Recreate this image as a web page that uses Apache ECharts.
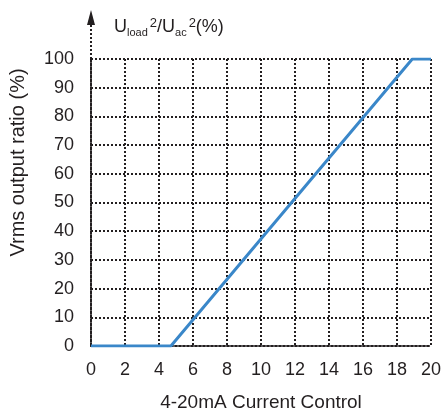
<!DOCTYPE html>
<html>
<head>
<meta charset="utf-8">
<script src="https://cdn.jsdelivr.net/npm/echarts@6/dist/echarts.min.js"></script>
<style>
  html, body { margin: 0; padding: 0; background: #fff; }
  #chart { width: 443px; height: 412px; }
</style>
</head>
<body>
<div id="chart"></div>
<script>
// current (mA) vs output ratio (%)
var currentMA = [0, 4.7, 18.9, 20];
var ratioPct = [0, 0, 100, 100];
var xTicks = [0, 2, 4, 6, 8, 10, 12, 14, 16, 18, 20];
var yTicks = [0, 10, 20, 30, 40, 50, 60, 70, 80, 90, 100];

var ink = '#231f20';
var font = 'Liberation Sans, Arial, sans-serif';
var dots = { color: ink, width: 2, type: [2, 2] };

var chart = echarts.init(document.getElementById('chart'));
var points = currentMA.map(function (x, i) { return [x, ratioPct[i]]; });

var gridLeft = 91, gridTop = 59;

var option = {
  animation: false,
  grid: { left: gridLeft, right: 12, top: gridTop, bottom: 66, outerBoundsMode: 'none', containLabel: false },
  xAxis: {
    type: 'value',
    min: xTicks[0], max: xTicks[xTicks.length - 1], interval: 2,
    name: '4-20mA Current Control',
    nameLocation: 'middle', nameGap: 47,
    nameTextStyle: { color: ink, fontSize: 19, fontFamily: font },
    axisLine: { show: true, lineStyle: dots },
    axisTick: { show: false },
    axisLabel: { color: ink, fontSize: 18, fontFamily: font, margin: 15 },
    splitLine: { show: true, lineStyle: dots }
  },
  yAxis: {
    type: 'value',
    min: yTicks[0], max: yTicks[yTicks.length - 1], interval: 10,
    name: 'Vrms output ratio (%)',
    nameLocation: 'middle', nameGap: 63,
    nameTextStyle: { color: ink, fontSize: 20, fontFamily: font, padding: [0, 0, 0, 80] },
    axisLine: { show: true, lineStyle: dots },
    axisTick: { show: false },
    axisLabel: { color: ink, fontSize: 18, fontFamily: font, margin: 17 },
    splitLine: { show: true, lineStyle: dots }
  },
  graphic: [
    {
      type: 'line',
      shape: { x1: gridLeft, y1: gridTop, x2: gridLeft, y2: 22 },
      style: { stroke: ink, lineWidth: 2, lineDash: [2, 2] }
    },
    {
      type: 'polygon',
      shape: { points: [[gridLeft, 10], [gridLeft - 4, 25], [gridLeft + 4, 25]] },
      style: { fill: ink }
    },
    {
      type: 'text',
      left: 114, top: 17,
      style: {
        text: 'U{sub|load}{sup|2}/U{sub|ac}{sup|2}(%)',
        fill: ink,
        font: '18px ' + font,
        rich: {
          sub: { fontSize: 11, fontFamily: font, fill: ink, padding: [10, 0, 0, 0] },
          sup: { fontSize: 13, fontFamily: font, fill: ink, padding: [0, 0, 8, 2] }
        }
      }
    }
  ],
  series: [{
    type: 'line',
    data: points,
    symbol: 'none',
    lineStyle: { color: '#3a87c9', width: 3 }
  }]
};
chart.setOption(option);
</script>
</body>
</html>
